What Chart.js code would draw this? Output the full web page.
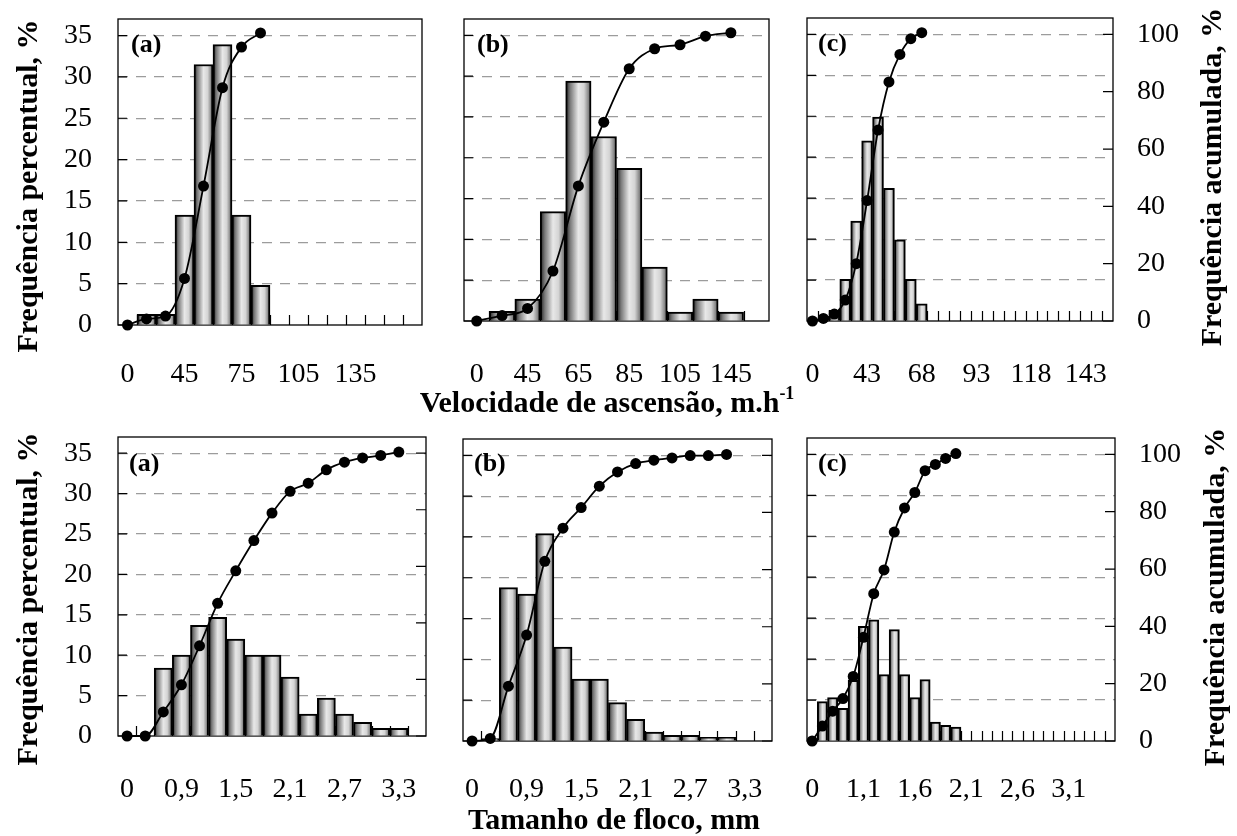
<!DOCTYPE html>
<html>
<head>
<meta charset="utf-8">
<script src="https://cdn.jsdelivr.net/npm/chart.js@4.4.1/dist/chart.umd.min.js"></script>
<style>
  body { margin:0; background:#fff; width:1237px; height:836px; position:relative; overflow:hidden; font-family:"Liberation Serif", "Times New Roman", serif; }
  canvas { position:absolute; }
  .lbl { position:absolute; font-weight:bold; font-size:26px; line-height:26px; }
  .ttl { position:absolute; font-weight:bold; font-size:30px; line-height:30px; white-space:nowrap; transform:translate(-50%,-50%); }
  .vt { transform:translate(-50%,-50%) rotate(-90deg); }
  sup { font-size:18px; line-height:0; vertical-align:13px; }
</style>
</head>
<body>
<canvas id="ta"></canvas>
<canvas id="tb"></canvas>
<canvas id="tc"></canvas>
<canvas id="ba"></canvas>
<canvas id="bb"></canvas>
<canvas id="bc"></canvas>

<div class="lbl" style="left:131px;top:31px">(a)</div>
<div class="lbl" style="left:477px;top:31px">(b)</div>
<div class="lbl" style="left:818px;top:30px">(c)</div>
<div class="lbl" style="left:129px;top:450px">(a)</div>
<div class="lbl" style="left:474px;top:450px">(b)</div>
<div class="lbl" style="left:818px;top:450px">(c)</div>

<div class="ttl vt" style="left:27px;top:186px">Frequência percentual, %</div>
<div class="ttl vt" style="left:27px;top:599px">Frequência percentual, %</div>
<div class="ttl vt" style="left:1211px;top:177px">Frequência acumulada, %</div>
<div class="ttl vt" style="left:1214px;top:597px">Frequência acumulada, %</div>
<div class="ttl" style="left:607px;top:402px">Velocidade de ascensão, m.h<sup>-1</sup></div>
<div class="ttl" style="left:614px;top:819px">Tamanho de floco, mm</div>

<script>
// ---- data ----
// top row: velocidade de ascensao
const velLabelsA = ['0', '', '', '45', '', '', '75', '', '', '105', '', '', '135', '', '', ''];
const velBarsA = [null, 1.3, 1.3, 13.3, 31.5, 33.9, 13.3, 4.8, null, null, null, null, null, null, null, null];
const velCumA = [0, 2.1, 3.1, 16.1, 48, 82, 96, 100.9, null, null, null, null, null, null, null, null];

const velLabelsB = ['0', '', '45', '', '65', '', '85', '', '105', '', '145', ''];
const velBarsB = [null, 1.2, 2.7, 13.4, 29.4, 22.6, 18.7, 6.6, 1.1, 2.7, 1.1, null];
const velCumB = [0, 1.9, 4.4, 17.5, 47.3, 69.6, 88.3, 95.3, 96.7, 99.7, 100.9, null];

const velLabelsC = ['0', '', '', '', '', '43', '', '', '', '', '68', '', '', '', '', '93', '', '', '', '', '118', '', '', '', '', '143', '', ''];
const velBarsC = [null, 0.5, 1.3, 5.1, 12.2, 22.0, 24.9, 16.2, 9.9, 5.1, 2.1, null, null, null, null, null, null, null, null, null, null, null, null, null, null, null, null, null];
const velCumC = [0, 0.9, 2.4, 7.3, 20, 42, 66.6, 83.4, 93, 98.5, 100.6, null, null, null, null, null, null, null, null, null, null, null, null, null, null, null, null, null];

// bottom row: tamanho de floco
const flocLabelsAB = ['0', '', '', '0,9', '', '', '1,5', '', '', '2,1', '', '', '2,7', '', '', '3,3', ''];
const flocBarsA = [null, null, 8.4, 10.0, 13.7, 14.7, 12.0, 10.0, 10.0, 7.3, 2.7, 4.7, 2.7, 1.7, 0.95, 0.95, null];
const flocCumA = [0, 0, 8.5, 18.1, 31.9, 46.9, 58.4, 69.1, 78.8, 86.5, 89.4, 94.1, 96.8, 98.3, 99.2, 100.4, null];

const flocBarsB = [null, 0.3, 18.8, 18.0, 25.4, 11.5, 7.6, 7.6, 4.7, 2.65, 1.1, 0.7, 0.7, 0.45, 0.45, null, null];
const flocCumB = [0, 0.9, 19.2, 37.1, 62.9, 74.5, 81.7, 89.2, 94.2, 97.1, 98.3, 99.1, 99.9, 99.9, 100.3, null, null];

const flocLabelsC = ['0', '', '', '', '', '1,1', '', '', '', '', '1,6', '', '', '', '', '2,1', '', '', '', '', '2,6', '', '', '', '', '3,1', '', '', '', ''];
const flocBarsC = [null, 4.8, 5.3, 4.0, 7.4, 14.0, 14.8, 8.1, 13.6, 8.1, 5.3, 7.5, 2.3, 1.9, 1.7, null, null, null, null, null, null, null, null, null, null, null, null, null, null, null];
const flocCumC = [0, 5.2, 10.4, 14.8, 22.5, 36.2, 51.4, 59.7, 72.9, 81.3, 86.7, 94.3, 96.5, 98.6, 100.3, null, null, null, null, null, null, null, null, null, null, null, null, null, null, null];

const leftMax = 37;               // 35 on the left lines up with 100 on the right
const rightMax = leftMax / 0.35;

const tickFont = { family: 'Liberation Serif', size: 28 };

// cylinder-like gradient for each bar
function barFill(ctx) {
  const xs = ctx.chart.scales && ctx.chart.scales.x;
  if (!xs || ctx.type !== 'data') return '#d0d0d0';
  const n = ctx.chart.data.labels.length;
  const w = (xs.right - xs.left) / n;
  const c = xs.getPixelForValue(ctx.dataIndex);
  if (!isFinite(w) || !isFinite(c) || w <= 0) return '#d0d0d0';
  const g = ctx.chart.ctx.createLinearGradient(c - w / 2, 0, c + w / 2, 0);
  g.addColorStop(0, '#1e1e1e');
  g.addColorStop(0.18, '#7a7a7a');
  g.addColorStop(0.5, '#e8e8e8');
  g.addColorStop(0.72, '#d4d4d4');
  g.addColorStop(1, '#5a5a5a');
  return g;
}

// box, inward tick marks
const framePlugin = {
  id: 'frame',
  beforeDatasetsDraw(chart, args, opts) {
    const { ctx, chartArea: a, scales: { x, y, y2 } } = chart;
    const n = chart.data.labels.length;
    const w = (a.right - a.left) / n;
    ctx.save();
    ctx.strokeStyle = '#000';
    ctx.lineWidth = 1.2;
    ctx.beginPath();
    for (let i = 1; i < n; i++) {
      const px = Math.round(x.getPixelForValue(i) - w / 2) + 0.5;
      ctx.moveTo(px, a.bottom);
      ctx.lineTo(px, a.bottom - 10);
    }
    y.ticks.forEach(t => {
      const py = y.getPixelForValue(t.value);
      ctx.moveTo(a.left, py);
      ctx.lineTo(a.left + 9, py);
    });
    if (opts.rightTicks) {
      y2.ticks.forEach(t => {
        const py = y2.getPixelForValue(t.value);
        ctx.moveTo(a.right, py);
        ctx.lineTo(a.right - 10, py);
      });
    }
    ctx.stroke();
    ctx.lineWidth = 1.3;
    ctx.strokeRect(a.left, a.top, a.right - a.left, a.bottom - a.top);
    ctx.restore();
  }
};

// pin an axis to a fixed size and stop it from pushing the plot area around
function pin(prop, size) {
  return s => {
    s[prop] = size;
    s.paddingLeft = s.paddingRight = s.paddingTop = s.paddingBottom = 0;
  };
}

function makeChart(id, box, labels, bars, cum, opt) {
  const padT = 10, padB = 70;
  const padL = opt.left ? box.l : 10;
  const padR = opt.right ? 1237 - box.r : 10;
  const cv = document.getElementById(id);
  cv.width = box.r - box.l + padL + padR;
  cv.height = box.b - box.t + padT + padB;
  cv.style.left = (box.l - padL) + 'px';
  cv.style.top = (box.t - padT) + 'px';

  const chart = new Chart(cv, {
    type: 'bar',
    data: {
      labels: labels,
      datasets: [{
        type: 'line',
        data: cum,
        yAxisID: 'y2',
        order: 0,
        clip: false,
        borderColor: '#000',
        borderWidth: 1.8,
        pointRadius: 5.5,
        pointBackgroundColor: '#000',
        pointBorderWidth: 0,
        cubicInterpolationMode: 'monotone'
      }, {
        type: 'bar',
        data: bars,
        yAxisID: 'y',
        order: 1,
        backgroundColor: barFill,
        borderColor: '#000',
        borderWidth: 2,
        barPercentage: 1,
        categoryPercentage: 1
      }]
    },
    options: {
      responsive: false,
      animation: false,
      devicePixelRatio: 1,
      layout: { padding: { top: padT } },
      plugins: {
        legend: { display: false },
        tooltip: { enabled: false },
        frame: { rightTicks: !!opt.rightTicks }
      },
      scales: {
        x: {
          offset: true,
          grid: { display: false, drawTicks: false },
          border: { display: false },
          ticks: { autoSkip: false, maxRotation: 0, padding: opt.xPad, color: '#000', font: tickFont },
          afterFit: pin('height', padB)
        },
        y: {
          position: 'left',
          min: 0, max: leftMax,
          ticks: { stepSize: 5, includeBounds: false, display: !!opt.left, padding: 26, color: '#000', font: tickFont },
          grid: { color: c => c.tick && c.tick.value === 0 ? 'rgba(0,0,0,0)' : '#9c9c9c', lineWidth: 1.2, drawTicks: false },
          border: { display: false, dash: [10, 8] },
          afterFit: pin('width', padL)
        },
        y2: {
          position: 'right',
          min: 0, max: rightMax,
          ticks: { stepSize: 20, includeBounds: false, display: !!opt.right, padding: 24, color: '#000', font: tickFont },
          grid: { drawOnChartArea: false, drawTicks: false },
          border: { display: false },
          afterFit: pin('width', padR)
        }
      }
    },
    plugins: [framePlugin]
  });
  chart.update();
  return chart;
}

makeChart('ta', { l: 118, r: 422, t: 19, b: 325 }, velLabelsA, velBarsA, velCumA, { left: true, xPad: 33 });
makeChart('tb', { l: 464, r: 769, t: 19, b: 321 }, velLabelsB, velBarsB, velCumB, { xPad: 37 });
makeChart('tc', { l: 807, r: 1113, t: 18, b: 321 }, velLabelsC, velBarsC, velCumC, { right: true, rightTicks: true, xPad: 37 });
makeChart('ba', { l: 118, r: 426, t: 437, b: 736 }, flocLabelsAB, flocBarsA, flocCumA, { left: true, rightTicks: true, xPad: 37 });
makeChart('bb', { l: 463, r: 772, t: 439, b: 741 }, flocLabelsAB, flocBarsB, flocCumB, { rightTicks: true, xPad: 32 });
makeChart('bc', { l: 807, r: 1115, t: 438, b: 741 }, flocLabelsC, flocBarsC, flocCumC, { right: true, rightTicks: true, xPad: 32 });
</script>
</body>
</html>
